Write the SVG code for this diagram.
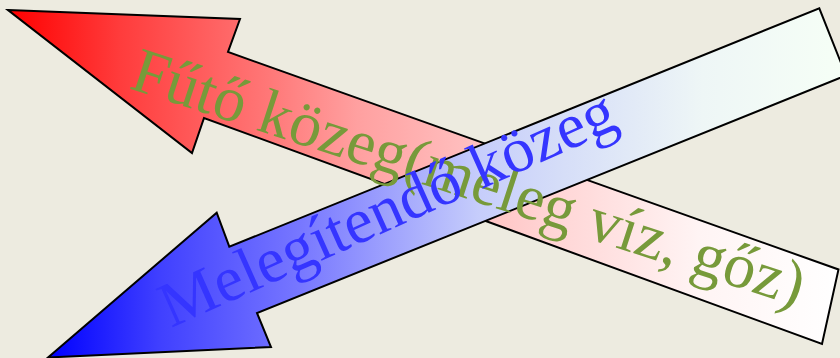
<svg xmlns="http://www.w3.org/2000/svg" width="840" height="358" viewBox="0 0 840 358">
<defs>
<linearGradient id="gRed" gradientUnits="userSpaceOnUse" x1="8" y1="0" x2="840" y2="0">
<stop offset="0" stop-color="#ff0000"/>
<stop offset="0.135" stop-color="#ff3c3c"/>
<stop offset="0.315" stop-color="#ff7878"/>
<stop offset="0.42" stop-color="#ffa0a0"/>
<stop offset="0.64" stop-color="#ffd2d2"/>
<stop offset="0.83" stop-color="#fff4f4"/>
<stop offset="1" stop-color="#ffffff"/>
</linearGradient>
<linearGradient id="gBlue" gradientUnits="userSpaceOnUse" x1="48" y1="0" x2="846" y2="0">
<stop offset="0" stop-color="#0000ff"/>
<stop offset="0.14" stop-color="#4040ff"/>
<stop offset="0.315" stop-color="#7777ff"/>
<stop offset="0.54" stop-color="#c6cdfb"/>
<stop offset="0.64" stop-color="#d5ddf8"/>
<stop offset="0.82" stop-color="#eef6f6"/>
<stop offset="1" stop-color="#f6fff6"/>
</linearGradient>
<style>
.arrow{stroke:#000;stroke-width:2;stroke-linejoin:miter}
.lbl{font-family:"Liberation Serif","Times New Roman",serif;font-size:64px}
</style>
</defs>
<rect width="840" height="358" fill="#edebe0"/>
<g id="arrow-heating">
<polygon class="arrow" fill="url(#gRed)" points="8,10 240,19 228,52 838.5,269.5 822,344 204,118 192,153"/>
</g>
<g id="arrow-heated">
<polygon class="arrow" fill="url(#gBlue)" points="48,357.5 271,347 257,313 846,75.5 819.3,8.3 229.3,246.7 216.7,212.7"/>
</g>
<g id="label-heating">
<text class="lbl" fill="#779a3a" transform="translate(128,88) rotate(18.1)">Fűtő közeg(meleg víz, gőz)</text>
</g>
<g id="label-heated">
<text class="lbl" fill="#3535ff" transform="translate(171,328) rotate(-24.1)">Melegítendő közeg</text>
</g>
</svg>
